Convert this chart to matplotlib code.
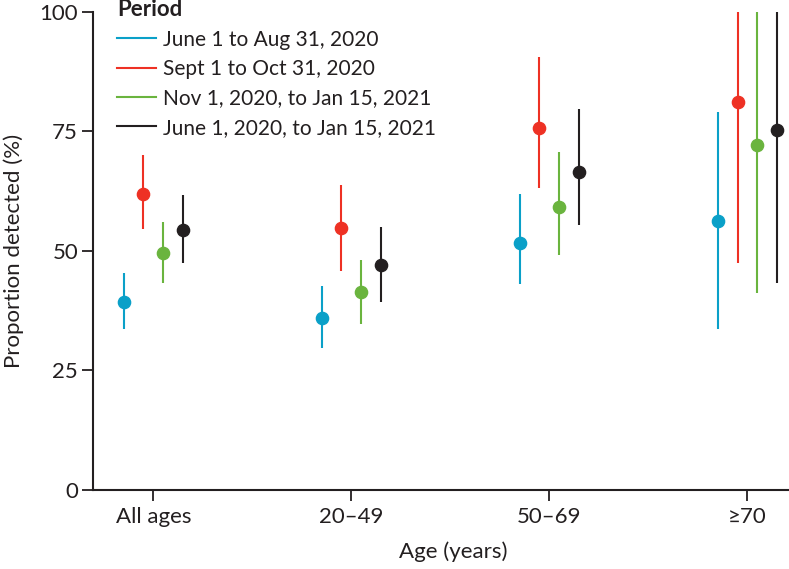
import numpy as np
import matplotlib
matplotlib.use('Agg')
import matplotlib.pyplot as plt

plt.rcParams['font.family'] = ['Lato', 'DejaVu Sans']

categories = ['All ages', '20–49', '50–69', '≥70']
periods = ['June 1 to Aug 31, 2020', 'Sept 1 to Oct 31, 2020',
           'Nov 1, 2020, to Jan 15, 2021', 'June 1, 2020, to Jan 15, 2021']
colors = ['#0aa0c8', '#ee3124', '#6ab43e', '#231f20']

# point estimates and 95% CI per period
est_jun_aug = [39.4, 36.0, 51.6, 56.2]
lo_jun_aug = [33.6, 29.6, 43.0, 33.7]
hi_jun_aug = [45.3, 42.6, 61.8, 79.1]

est_sep_oct = [61.9, 54.8, 75.7, 81.1]
lo_sep_oct = [54.5, 45.8, 63.1, 47.5]
hi_sep_oct = [70.0, 63.7, 90.6, 100.0]

est_nov_jan = [49.6, 41.3, 59.2, 72.1]
lo_nov_jan = [43.2, 34.7, 49.1, 41.1]
hi_nov_jan = [56.1, 48.1, 70.7, 100.0]

est_all = [54.3, 47.1, 66.5, 75.3]
lo_all = [47.4, 39.4, 55.4, 43.3]
hi_all = [61.7, 54.9, 79.6, 100.0]

est = [est_jun_aug, est_sep_oct, est_nov_jan, est_all]
lo = [lo_jun_aug, lo_sep_oct, lo_nov_jan, lo_all]
hi = [hi_jun_aug, hi_sep_oct, hi_nov_jan, hi_all]

fs = 16
lfs = 15

fig = plt.figure(figsize=(7.89, 5.69), dpi=100)
ax = fig.add_axes([0.1183, 0.1388, 0.8817, 0.8408])

x = np.arange(len(categories))
offsets = [-0.15, -0.05, 0.05, 0.15]
for i in range(len(periods)):
    e = np.array(est[i])
    yerr = [e - np.array(lo[i]), np.array(hi[i]) - e]
    ax.errorbar(x + offsets[i], e, yerr=yerr, fmt='o', color=colors[i],
                ms=8.8, elinewidth=1.5, capsize=0, label=periods[i])

ax.set_xlim(-0.303, 3.21)
ax.set_ylim(0, 100)
ax.set_yticks([0, 25, 50, 75, 100])
ax.set_xticks(x)
ax.set_xticklabels(categories)

for s in ['top', 'right']:
    ax.spines[s].set_visible(False)
for s in ['left', 'bottom']:
    ax.spines[s].set_linewidth(1.5)
    ax.spines[s].set_color('#231f20')
ax.tick_params(axis='both', direction='out', length=8, width=1.3,
               color='#231f20', labelsize=fs, labelcolor='#231f20')
ax.tick_params(axis='y', pad=3)
ax.tick_params(axis='x', pad=4)

ax.set_ylabel('Proportion detected (%)', fontsize=fs, color='#231f20')
ax.set_xlabel('Age (years)', fontsize=fs, color='#231f20')
ax.yaxis.set_label_coords(-0.099, 0.5)
ax.xaxis.set_label_coords(0.518, -0.108)

handles = [plt.Line2D([], [], color=c, lw=1.5) for c in colors]
leg = ax.legend(handles, periods, loc='upper left', bbox_to_anchor=(0.034, 1.026),
                frameon=False, fontsize=lfs, title='Period', alignment='left',
                title_fontproperties={'weight': 'bold', 'size': fs},
                handlelength=1.85, handletextpad=0.35, labelspacing=0.45,
                borderaxespad=0.0, borderpad=0.0)
leg.get_title().set_color('#231f20')
for t in leg.get_texts():
    t.set_color('#231f20')

fig.savefig('out.png', dpi=100)
